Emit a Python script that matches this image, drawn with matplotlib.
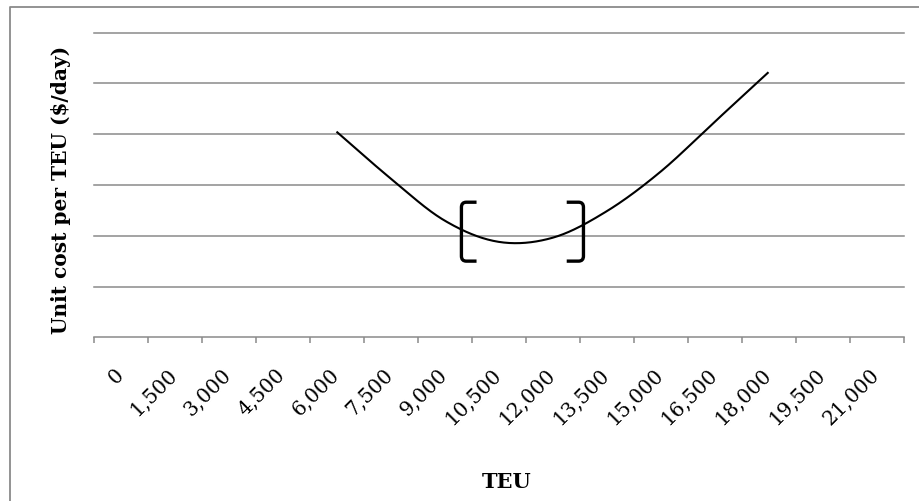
import numpy as np
import matplotlib
matplotlib.use("Agg")
import matplotlib.pyplot as plt
from matplotlib.lines import Line2D
from matplotlib.path import Path
from matplotlib.patches import PathPatch

# Category axis (TEU) and the unit-cost curve
teu_labels = ["0", "1,500", "3,000", "4,500", "6,000", "7,500", "9,000",
              "10,500", "12,000", "13,500", "15,000", "16,500", "18,000",
              "19,500", "21,000"]
curve_teu = [6000, 7500, 9000, 10500, 12000, 13500, 15000, 16500, 18000]
unit_cost = [4.05, 3.13, 2.30, 1.88, 1.96, 2.48, 3.26, 4.24, 5.22]
cost_gridlines = [0, 1, 2, 3, 4, 5, 6]

# Optimal-size range marked with brackets (TEU) and their vertical extent
bracket_teu = [9470, 12860]
bracket_cost = [1.50, 2.66]

TEU_STEP = 1500
GRID = "#8a8a8a"
FONT = "DejaVu Serif"


def catmull_rom(x, y, n=40):
    """Smooth line through the points, like a spreadsheet 'smoothed line'."""
    x = np.asarray(x, float)
    y = np.asarray(y, float)
    px = np.concatenate([[2 * x[0] - x[1]], x, [2 * x[-1] - x[-2]]])
    py = np.concatenate([[2 * y[0] - y[1]], y, [2 * y[-1] - y[-2]]])
    xs, ys = [], []
    t = np.linspace(0, 1, n, endpoint=False)
    for i in range(1, len(px) - 2):
        for arr, out in ((px, xs), (py, ys)):
            p0, p1, p2, p3 = arr[i - 1], arr[i], arr[i + 1], arr[i + 2]
            m1 = (p2 - p0) / 2
            m2 = (p3 - p1) / 2
            h00 = 2 * t**3 - 3 * t**2 + 1
            h10 = t**3 - 2 * t**2 + t
            h01 = -2 * t**3 + 3 * t**2
            h11 = t**3 - t**2
            out.extend(h00 * p1 + h10 * m1 + h01 * p2 + h11 * m2)
    xs.append(x[-1])
    ys.append(y[-1])
    return np.array(xs), np.array(ys)


W, H = 919, 502
fig = plt.figure(figsize=(W / 100, H / 100), dpi=100)
ax = fig.add_axes([93.5 / W, (H - 338.3) / H, 810 / W, (338.3 - 33.6) / H])

n_cat = len(teu_labels)
ax.set_xlim(-0.5, n_cat - 0.5)
ax.set_ylim(cost_gridlines[0], cost_gridlines[-1])

# horizontal gridlines
for v in cost_gridlines[1:]:
    ax.axhline(v, color=GRID, lw=1.1, zorder=1, clip_on=False)

for side in ("top", "right", "left"):
    ax.spines[side].set_visible(False)
ax.spines["bottom"].set_color(GRID)
ax.spines["bottom"].set_linewidth(1.1)
ax.set_yticks([])

# tick marks at category boundaries, labels at category centres
ax.set_xticks(np.arange(n_cat + 1) - 0.5)
ax.set_xticklabels([])
ax.tick_params(axis="x", which="major", length=4.5, width=1.1, color=GRID,
               direction="out")
ax.set_xticks(np.arange(n_cat), minor=True)
ax.set_xticklabels(teu_labels, minor=True)
ax.tick_params(axis="x", which="minor", length=0, pad=24)
for lab in ax.get_xticklabels(minor=True):
    lab.set_rotation(45)
    lab.set_rotation_mode("anchor")
    lab.set_ha("right")
    lab.set_va("center")
    lab.set_fontfamily(FONT)
    lab.set_fontsize(14.5)
    lab.set_color("black")

# unit cost curve
cx = np.array(curve_teu) / TEU_STEP
sx, sy = catmull_rom(cx, unit_cost)
ax.plot(sx, sy, color="black", lw=1.5, solid_capstyle="butt", zorder=3)

# brackets around the optimal range
def bracket(x, y0, y1, arm, rx, ry):
    d = np.sign(arm)
    verts = [(x + arm, y1), (x + d * rx, y1), (x, y1), (x, y1 - ry),
             (x, y0 + ry), (x, y0), (x + d * rx, y0), (x + arm, y0)]
    codes = [Path.MOVETO, Path.LINETO, Path.CURVE3, Path.CURVE3,
             Path.LINETO, Path.CURVE3, Path.CURVE3, Path.LINETO]
    return PathPatch(Path(verts, codes), fill=False, ec="black", lw=2.4,
                     capstyle="butt", joinstyle="round", zorder=4)

rx, ry = 0.09, 0.1
bl = bracket_teu[0] / TEU_STEP
br = bracket_teu[1] / TEU_STEP
ax.add_patch(bracket(bl, bracket_cost[0], bracket_cost[1], 0.28, rx, ry))
ax.add_patch(bracket(br, bracket_cost[0], bracket_cost[1], -0.31, rx, ry))

# axis titles
fig.text(507 / W, 1 - 482 / H, "TEU", family=FONT, weight="bold",
         fontsize=15, ha="center", va="center")
fig.text(61 / W, 1 - 190 / H, "Unit cost per TEU ($/day)", family=FONT,
         weight="bold", fontsize=14.5, rotation=90, ha="center", va="center")

# outer frame (top and left edges)
fig.add_artist(Line2D([9.5 / W, 9.5 / W, 1.0], [0.0, 1 - 7.5 / H, 1 - 7.5 / H],
                      transform=fig.transFigure, color=GRID, lw=1.3))

fig.savefig("out.png", dpi=100, facecolor="white")
